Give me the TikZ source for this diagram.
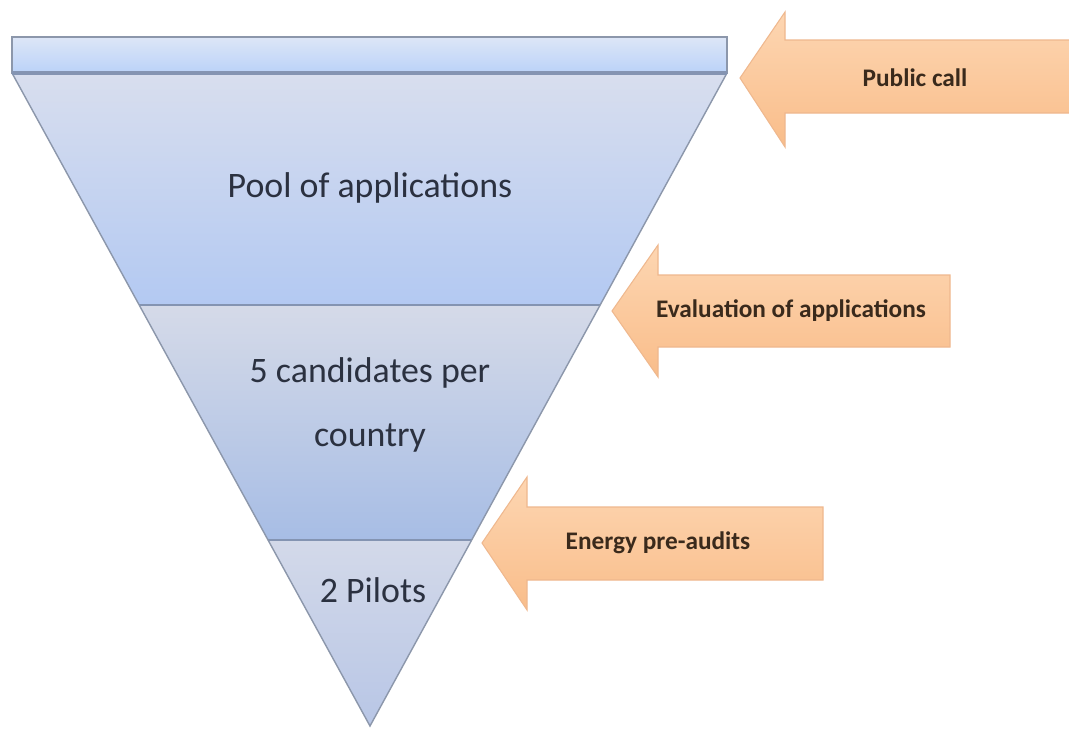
\documentclass[tikz,border=0pt]{standalone}
\usepackage{fontspec}
\setmainfont{Carlito}
\usetikzlibrary{calc}

\definecolor{edgegray}{HTML}{8C97AB}
\definecolor{bandline}{HTML}{8494B2}
\definecolor{rimtop}{HTML}{DDE6F7}
\definecolor{rimbot}{HTML}{BAD2F8}
\definecolor{poolTop}{HTML}{D8DEEE}
\definecolor{poolBot}{HTML}{B3C9F2}
\definecolor{candTop}{HTML}{D5DAE8}
\definecolor{candBot}{HTML}{A7BDE5}
\definecolor{pilotTop}{HTML}{D3D9E9}
\definecolor{pilotBot}{HTML}{B8C6E6}
\definecolor{arrowtop}{HTML}{FDD6B2}
\definecolor{arrowbot}{HTML}{F9BD8A}
\definecolor{arrowedge}{HTML}{EFB88E}
\definecolor{labelink}{HTML}{2B3140}
\definecolor{arrowink}{HTML}{3A2A1C}

\begin{document}
\begin{tikzpicture}
  [x=0.02cm,y=-0.02cm,
   band/.style={draw=edgegray,line width=0.8pt},
   label/.style={font=\fontsize{20.4}{36}\selectfont,text=labelink,align=center},
   step arrow/.style={draw=arrowedge,line width=0.6pt,top color=arrowtop,bottom color=arrowbot},
   arrow text/.style={font=\fontsize{14.4}{16}\selectfont\bfseries,text=arrowink}]
  \useasboundingbox[fill=white] (0,0) rectangle (1069,730);

  % corners of the funnel
  \coordinate (tl) at (12,73);
  \coordinate (tr) at (727,73);
  \coordinate (ap) at (370,726);
  \coordinate (l1) at ($(tl)!0.3553!(ap)$);
  \coordinate (r1) at ($(tr)!0.3553!(ap)$);
  \coordinate (l2) at ($(tl)!0.7152!(ap)$);
  \coordinate (r2) at ($(tr)!0.7152!(ap)$);

  % the three bands
  \path[top color=poolTop,bottom color=poolBot] (tl) -- (tr) -- (r1) -- (l1) -- cycle;
  \path[top color=candTop,bottom color=candBot] (l1) -- (r1) -- (r2) -- (l2) -- cycle;
  \path[top color=pilotTop,bottom color=pilotBot] (l2) -- (r2) -- (ap) -- cycle;
  \draw[bandline,line width=1.4pt] (l1) -- (r1);
  \draw[bandline,line width=1.4pt] (l2) -- (r2);
  \draw[band] (tl) -- (ap) -- (tr);

  % rim on top
  \draw[band,top color=rimtop,bottom color=rimbot] (12,37) rectangle (727,73);
  \draw[bandline,line width=2.2pt] (tl) -- (tr);

  \node[label] (pool) at (370,188) {Pool of applications};
  \node[label] (cand) at (370,405) {5 candidates per\\country};
  \node[label] (pilot) at (373,590) {2 Pilots};

  % block arrows pointing at the funnel
  \path[step arrow] (740,78) -- (785,12) -- (785,40) -- (1075,40) -- (1075,113) -- (785,113) -- (785,147) -- cycle;
  \path[step arrow] (612,311) -- (658,245) -- (658,275) -- (950,275) -- (950,347) -- (658,347) -- (658,377) -- cycle;
  \path[step arrow] (482,543) -- (527,477) -- (527,507) -- (823,507) -- (823,580) -- (527,580) -- (527,610) -- cycle;

  \node[arrow text] (call) at (915,78) {Public call};
  \node[arrow text] (eval) at (791,311) {Evaluation of applications};
  \node[arrow text] (audit) at (658,543) {Energy pre-audits};
\end{tikzpicture}
\end{document}
